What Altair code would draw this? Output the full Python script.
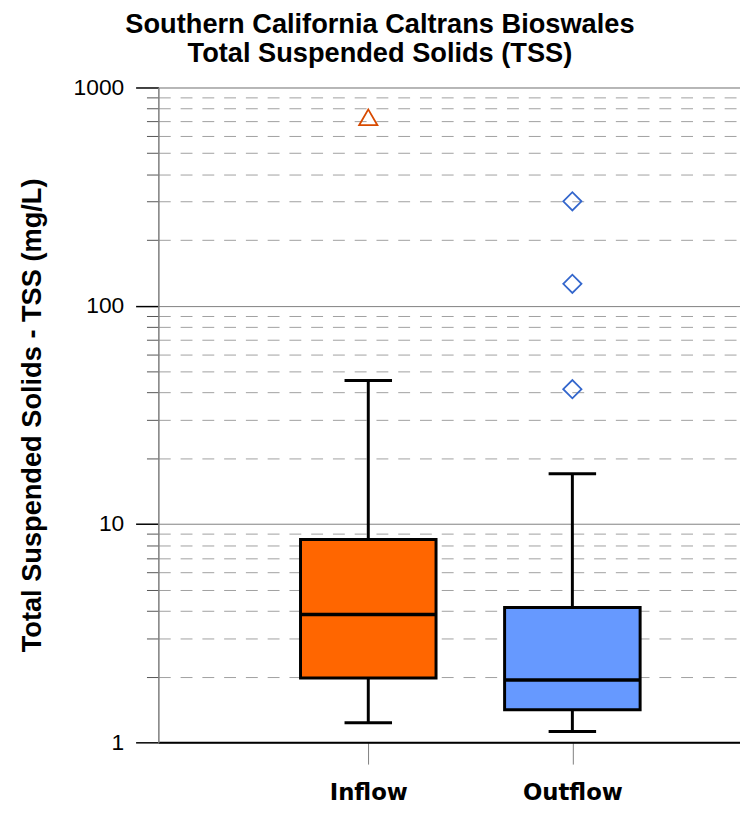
import altair as alt
import pandas as pd

# ---- data ----
groups = ["Inflow", "Outflow"]
whisker_low = [1.23, 1.12]
q1 = [1.97, 1.41]
median = [3.85, 1.93]
q3 = [8.5, 4.15]
whisker_high = [45.5, 17.0]

outlier_group = ["Inflow", "Outflow", "Outflow", "Outflow"]
outlier_value = [730, 301, 126, 41.5]

major_ticks = [1, 10, 100, 1000]
minor_ticks = [2, 3, 4, 5, 6, 7, 8, 9,
               20, 30, 40, 50, 60, 70, 80, 90,
               200, 300, 400, 500, 600, 700, 800, 900]

title_lines = ["Southern California Caltrans Bioswales", "Total Suspended Solids (TSS)"]
y_title = "Total Suspended Solids - TSS (mg/L)"

# ---- styles ----
box_colors = ["#FF6600", "#6699FF"]
outlier_colors = ["#D84A00", "#3366CC"]
outlier_shapes = ["triangle-up", "diamond"]

box_df = pd.DataFrame({
    "group": groups, "lo": whisker_low, "q1": q1, "median": median,
    "q3": q3, "hi": whisker_high,
})
out_df = pd.DataFrame({"group": outlier_group, "value": outlier_value})

yscale = alt.Scale(type="log", domain=[1, 1000], nice=False)
xscale = alt.Scale(type="point", domain=groups, padding=0.925, align=0.556)

x_axis = alt.Axis(
    title=None, labelFont="DejaVu Sans", labelFontWeight="bold", labelFontSize=23,
    labelColor="black", labelAngle=0, labelBaseline="alphabetic", labelPadding=36,
    tickSize=22, tickColor="#808080", tickWidth=1, domainColor="black",
    domainWidth=2, grid=False, zindex=0,
)
major_axis = alt.Axis(
    orient="left", values=major_ticks, format="d", title=y_title,
    titleFont="Liberation Sans", titleFontSize=27.5, titleFontWeight="bold",
    titleColor="black", titlePadding=27,
    labelFont="Liberation Sans", labelFontSize=23, labelColor="black",
    labelPadding=12, tickSize=23, tickColor="black", tickWidth=1.5,
    domainColor="#808080", domainWidth=1.5,
    grid=True, gridColor="#808080", gridWidth=1, zindex=0,
)
minor_axis = alt.Axis(
    orient="left", values=minor_ticks, labels=False, title=None, domain=False,
    tickSize=12, tickColor="#555555", tickWidth=1,
    grid=True, gridDash=[12, 10], gridColor="#A0A0A0", gridWidth=1, zindex=0,
)


def xenc():
    return alt.X("group:N", scale=xscale, axis=x_axis, sort=groups)


base = alt.Chart(box_df)

boxes = base.mark_bar(size=137, stroke="black", strokeWidth=3).encode(
    x=xenc(),
    y=alt.Y("q1:Q", scale=yscale, axis=major_axis),
    y2="q3:Q",
    fill=alt.Fill("group:N", scale=alt.Scale(domain=groups, range=box_colors), legend=None),
)

whisk_low = base.mark_rule(color="black", strokeWidth=3).encode(
    x=xenc(),
    y=alt.Y("lo:Q", scale=yscale, axis=None),
    y2="q1:Q",
)
whisk_high = base.mark_rule(color="black", strokeWidth=3).encode(
    x=xenc(),
    y=alt.Y("q3:Q", scale=yscale, axis=None),
    y2="hi:Q",
)
cap_low = base.mark_tick(color="black", size=48, thickness=3, opacity=1).encode(
    x=xenc(),
    y=alt.Y("lo:Q", scale=yscale, axis=None),
)
cap_high = base.mark_tick(color="black", size=48, thickness=3, opacity=1).encode(
    x=xenc(),
    y=alt.Y("hi:Q", scale=yscale, axis=None),
)
med = base.mark_tick(color="black", size=137, thickness=3.5, opacity=1).encode(
    x=xenc(),
    y=alt.Y("median:Q", scale=yscale, axis=None),
)

outliers = alt.Chart(out_df).mark_point(filled=False, size=340, strokeWidth=1.8, opacity=1).encode(
    x=xenc(),
    y=alt.Y("value:Q", scale=yscale, axis=minor_axis),
    stroke=alt.Stroke("group:N", scale=alt.Scale(domain=groups, range=outlier_colors), legend=None),
    shape=alt.Shape("group:N", scale=alt.Scale(domain=groups, range=outlier_shapes), legend=None),
)

chart = alt.layer(
    outliers, boxes, whisk_low, whisk_high, cap_low, cap_high, med
).resolve_axis(y="independent").resolve_scale(
    fill="independent", stroke="independent", shape="independent"
).properties(
    width=588, height=662,
    autosize=alt.AutoSizeParams(type="none"),
    padding={"left": 152, "top": 76, "right": 0, "bottom": 60},
    title=alt.TitleParams(
        text=title_lines, font="Liberation Sans", fontSize=27.5, fontWeight="bold",
        color="black", anchor="middle", dx=-70, offset=9, lineHeight=30,
    ),
).configure_view(stroke=None).configure(background="white")

chart.save("out.html", embed_options={"renderer": "svg", "actions": False})
